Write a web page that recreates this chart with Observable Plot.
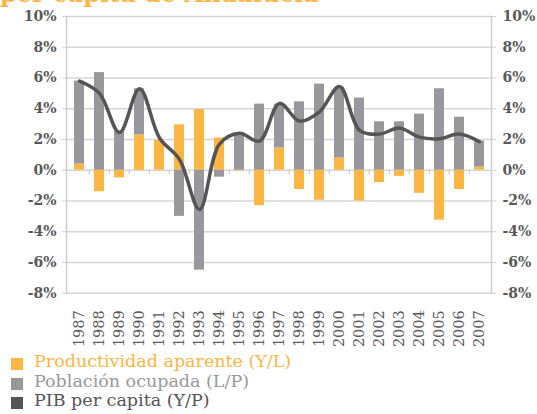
<!DOCTYPE html>
<html>
<head>
<meta charset="utf-8">
<script src="https://cdn.jsdelivr.net/npm/d3@7"></script>
<script src="https://cdn.jsdelivr.net/npm/@observablehq/plot@0.6"></script>
<style>
  html, body { margin: 0; padding: 0; background: #ffffff; }
  body { width: 537px; height: 414px; position: relative; overflow: hidden; font-family: "DejaVu Serif", serif; }
  #title { position: absolute; left: 0; top: -17.6px; font-size: 24px; line-height: 24px; font-weight: bold; color: #FDB643; white-space: nowrap; }
  #legend { position: absolute; left: 0; top: 352px; }
  .item { position: absolute; left: 11px; height: 20px; white-space: nowrap; font-size: 17.5px; }
  .sw { position: absolute; left: 0; width: 12px; height: 12px; }
  .lab { position: absolute; left: 23px; top: -1px; line-height: 20px; }
</style>
</head>
<body>
<div id="title">per capita de Andalucía</div>
<div id="chart"></div>
<div id="legend"></div>
<script>
const years = ["1987","1988","1989","1990","1991","1992","1993","1994","1995","1996","1997","1998","1999","2000","2001","2002","2003","2004","2005","2006","2007"];
const productividad = [0.4, -1.4, -0.5, 2.3, 1.95, 2.95, 3.95, 2.1, -0.05, -2.3, 1.45, -1.25, -1.95, 0.8, -2.0, -0.8, -0.4, -1.5, -3.25, -1.25, 0.2];
const poblacion = [5.4, 6.35, 2.55, 3.0, 0.0, -3.0, -6.5, -0.45, 2.4, 4.3, 2.85, 4.45, 5.6, 4.6, 4.7, 3.15, 3.15, 3.65, 5.3, 3.45, 1.7];
const pibPerCapita = [5.8, 5.0, 2.45, 5.3, 2.1, 0.7, -2.55, 1.7, 2.4, 1.9, 4.35, 3.2, 3.8, 5.45, 2.6, 2.35, 2.75, 2.15, 2.05, 2.35, 1.85];
const yTicks = [-8, -6, -4, -2, 0, 2, 4, 6, 8, 10];
const seriesNames = ["Productividad aparente (Y/L)", "Población ocupada (L/P)", "PIB per capita (Y/P)"];
const seriesColors = ["#FDB643", "#98989C", "#555558"];

const bars = [];
years.forEach((yr, i) => {
  bars.push({year: yr, serie: seriesNames[0], value: productividad[i]});
  bars.push({year: yr, serie: seriesNames[1], value: poblacion[i]});
});
const line = years.map((yr, i) => ({year: yr, value: pibPerCapita[i]}));

const W = 537, H = 352, mL = 66, mR = 46, mT = 16, mB = 59.3;
const step = (W - mL - mR) / years.length;

const chart = Plot.plot({
  width: W, height: H,
  marginLeft: mL, marginRight: mR, marginTop: mT, marginBottom: mB,
  style: {fontFamily: "DejaVu Serif", fontSize: "14px", background: "#ffffff", overflow: "visible"},
  x: {domain: years, paddingInner: 0.52, paddingOuter: 0.26, label: null},
  y: {domain: [-8, 10], label: null},
  color: {domain: seriesNames.slice(0, 2), range: seriesColors.slice(0, 2)},
  marks: [
    Plot.gridY(yTicks, {stroke: "#d6d6d6", strokeOpacity: 1, strokeWidth: 1.5}),
    Plot.barY(bars, Plot.stackY({x: "year", y: "value", fill: "serie", z: "serie", order: seriesNames.slice(0, 2)})),
    Plot.ruleX(years.slice(1), {x: d => d, y1: 0, y2: -0.28, dx: -step / 2, stroke: "#cfcfcf", strokeWidth: 1.3}),
    Plot.frame({anchor: "left", stroke: "#d0d0d0", strokeWidth: 1.5}),
    Plot.frame({anchor: "right", stroke: "#d0d0d0", strokeWidth: 1.5}),
    Plot.line(line, {x: "year", y: "value", curve: "catmull-rom", stroke: seriesColors[2], strokeWidth: 3.5, strokeLinejoin: "round", strokeLinecap: "round"}),
    Plot.axisY({anchor: "left", ticks: yTicks, tickFormat: d => d + "%", tickSize: 4, tickPadding: 6, stroke: "#d0d0d0", fill: "#595959", fontWeight: "bold", fontSize: 14, label: null}),
    Plot.axisY({anchor: "right", ticks: yTicks, tickFormat: d => d + "%", tickSize: 4, tickPadding: 7, stroke: "#d0d0d0", fill: "#595959", fontWeight: "bold", fontSize: 14, label: null}),
    Plot.axisX({anchor: "bottom", tickSize: 0, tickPadding: 17, tickRotate: -90, fill: "#595959", fontSize: 14.5, label: null})
  ]
});
document.getElementById("chart").appendChild(chart);

const legend = document.getElementById("legend");
seriesNames.forEach((name, i) => {
  const item = document.createElement("div");
  item.className = "item";
  item.style.top = (i * 19.5) + "px";
  const sw = document.createElement("div");
  sw.className = "sw";
  sw.style.top = "6px";
  sw.style.background = seriesColors[i];
  const lab = document.createElement("div");
  lab.className = "lab";
  lab.style.color = seriesColors[i];
  lab.textContent = name;
  item.appendChild(sw);
  item.appendChild(lab);
  legend.appendChild(item);
});
</script>
</body>
</html>
